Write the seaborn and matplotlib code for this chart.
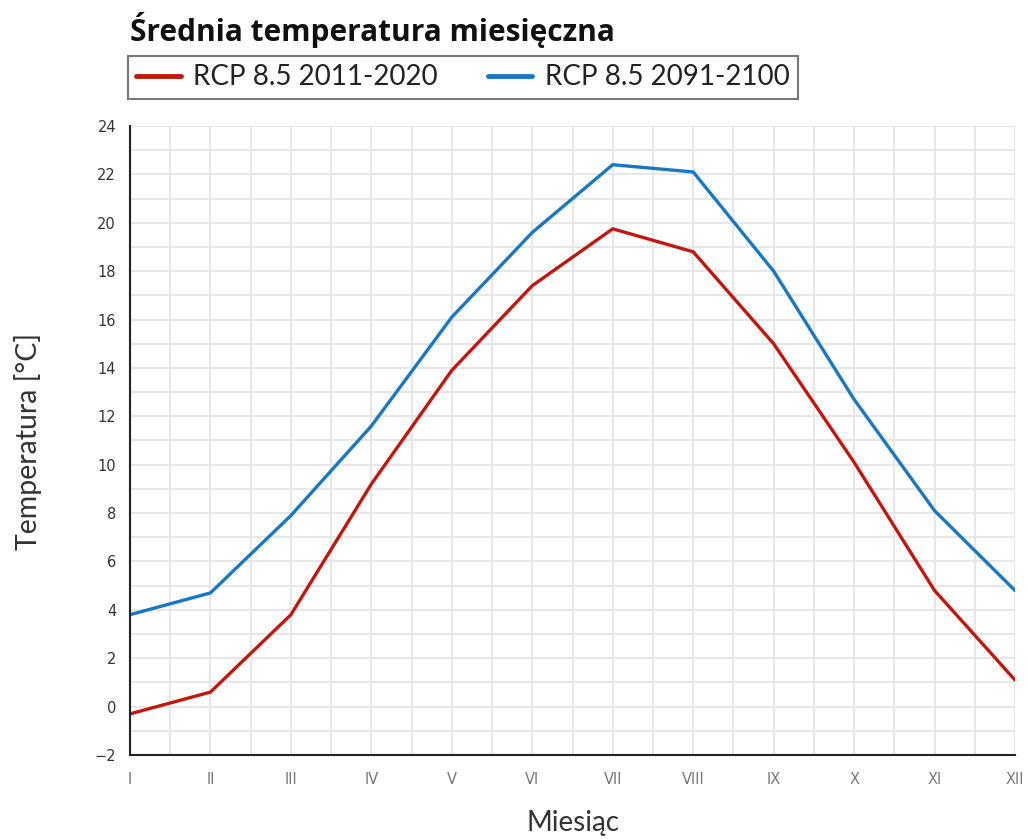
import numpy as np
import pandas as pd
import matplotlib
matplotlib.use("Agg")
import matplotlib.pyplot as plt
from matplotlib.ticker import MultipleLocator
import seaborn as sns

sns.set_theme(style="white")
plt.rcParams['font.family'] = ['Lato', 'DejaVu Sans']

# monthly means
months = ["I", "II", "III", "IV", "V", "VI", "VII", "VIII", "IX", "X", "XI", "XII"]
rcp_2011_2020 = [-0.3, 0.6, 3.8, 9.2, 13.9, 17.4, 19.75, 18.8, 15.0, 10.1, 4.8, 1.1]
rcp_2091_2100 = [3.8, 4.7, 7.9, 11.6, 16.1, 19.6, 22.4, 22.1, 18.0, 12.7, 8.1, 4.8]
series_names = ["RCP 8.5 2011-2020", "RCP 8.5 2091-2100"]
colors = ["#c0170f", "#1a78c2"]

df = pd.DataFrame({
    "month": list(range(len(months))) * 2,
    "temp": rcp_2011_2020 + rcp_2091_2100,
    "series": [series_names[0]] * 12 + [series_names[1]] * 12,
})

fig = plt.figure(figsize=(10.28, 8.39), dpi=100)
ax = fig.add_axes([130 / 1028, 1 - 755 / 839, (1015 - 130) / 1028, (755 - 126) / 839])

sns.lineplot(data=df, x="month", y="temp", hue="series", palette=colors,
             linewidth=2.4, ax=ax, legend=False)

ax.set_xlim(0, 11)
ax.set_ylim(-2, 24)
ax.set_xticks(range(12))
ax.set_xticklabels(months)
ax.xaxis.set_minor_locator(MultipleLocator(0.5))
ax.yaxis.set_major_locator(MultipleLocator(2))
ax.yaxis.set_minor_locator(MultipleLocator(1))
ax.grid(True, which="both", color="#e5e5e5", linewidth=1.3)
ax.set_axisbelow(True)
for s in ["top", "right"]:
    ax.spines[s].set_visible(False)
for s in ["left", "bottom"]:
    ax.spines[s].set_color("#222222")
    ax.spines[s].set_linewidth(1.5)
ax.tick_params(which="major", direction="out", length=6, width=1.5, color="#333333")
ax.tick_params(which="minor", length=0)
ax.tick_params(axis="y", labelsize=10.5, labelcolor="#333333", pad=4)
ax.tick_params(axis="x", labelsize=10.5, labelcolor="#777777", pad=6)
for lbl in ax.get_xticklabels() + ax.get_yticklabels():
    lbl.set_family("DejaVu Sans")

ax.set_xlabel("")
ax.set_ylabel("")
fig.text(28 / 1028, 1 - 441 / 839, "Temperatura [°C]", rotation=90, ha="center",
         va="center", fontsize=20.5, color="#333333")
fig.text(573 / 1028, 1 - 823 / 839, "Miesiąc", ha="center", va="center",
         fontsize=20, color="#333333")

fig.text(130 / 1028, 1 - 30 / 839, "Średnia temperatura miesięczna", ha="left",
         va="center", fontsize=21.5, fontweight="bold", color="#111111",
         family="Open Sans")

handles = [plt.Line2D([], [], color=c, linewidth=3.5) for c in colors]
leg = fig.legend(handles, series_names, loc="upper left",
                 bbox_to_anchor=(128 / 1028, 1 - 56 / 839), borderaxespad=0,
                 ncol=2, frameon=True,
                 fancybox=False, fontsize=20, handlelength=1.6, handletextpad=0.45,
                 columnspacing=1.8, borderpad=0.3, labelcolor="#222222")
leg.get_frame().set_edgecolor("#555555")
leg.get_frame().set_linewidth(1.5)

fig.savefig("out.png", dpi=100)
